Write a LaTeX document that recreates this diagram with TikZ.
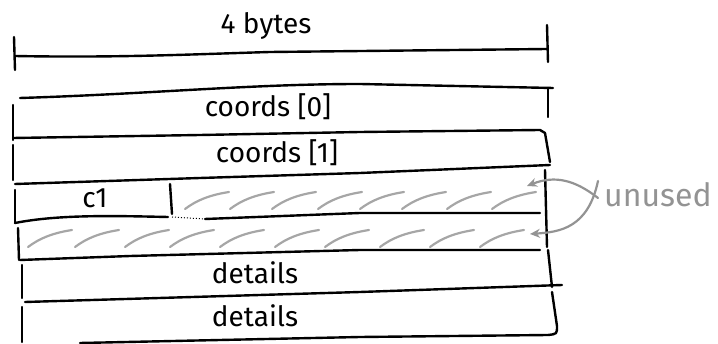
\documentclass[tikz,border=0pt]{standalone}
\usepackage{fontspec}
\setmainfont{Fira Sans}
\usetikzlibrary{arrows.meta}
\tikzset{
  pen/.style={line width=2.4pt, line cap=round, line join=round, black},
  hatch/.style={line width=2.2pt, line cap=round, gray!70},
  note/.style={line width=2.2pt, line cap=round, gray!85},
  lbl/.style={font=\fontsize{28}{30}\selectfont, inner sep=0pt},
}
\begin{document}
\begin{tikzpicture}[x=1pt, y=-1pt]
\useasboundingbox (0,0) rectangle (718,344);

% width marker: 4 bytes
\draw[pen] (14,37) -- (15,70);
\draw[pen] (547,25) -- (548,62);
\draw[pen] (15,56) .. controls (120,58) and (200,54) .. (270,52) -- (547,49);
\node[lbl] (width) at (266,26) {4 bytes};

% row: coords[0]
\draw[pen] (20,98) .. controls (150,94) and (250,84) .. (360,84) -- (553,88);
\draw[pen] (548,88) -- (548,117);
\draw[pen] (13,105) -- (13,140);
\node[lbl] (c0) at (268,107) {coords [0]};

% row: coords[1]
\draw[pen] (13,138) -- (200,135) -- (360,132) -- (540,130) -- (545,133) -- (550,162);
\draw[pen] (13,145) -- (13,180);
\node[lbl] (c1full) at (277,153) {coords [1]};

% row: c1 + padding
\draw[pen] (15,184) -- (200,178) -- (360,173) -- (550,165);
\draw[pen] (545,170) -- (547,247);
\draw[pen] (15,190) -- (15,223);
\draw[pen] (170,184) -- (172,214);
\draw[pen] (15,223) .. controls (60,214) and (120,216) .. (168,217);
\draw[line width=1pt, dotted] (172,217) -- (205,219);
\draw[pen] (205,219) -- (360,213) -- (540,213);
\node[lbl] (cone) at (95,198) {c1};

% padding hatching in the c1 row
\foreach \x in {185,230,272,318,360,402,447,492}
  \draw[hatch] (\x,209) .. controls (\x+12,200) and (\x+25,195) .. (\x+44,192);

% row: padding
\draw[pen] (18,228) -- (19,260);
\draw[pen] (20,260) -- (130,256) -- (360,250) -- (540,250);
\foreach \x in {28,75,125,170,220,275,325,380,430,480}
  \draw[hatch] (\x,247) .. controls (\x+12,238) and (\x+25,233) .. (\x+44,230);

% row: details
\draw[pen] (22,265) -- (22,298);
\draw[pen] (548,250) -- (552,287);
\draw[pen] (25,302) -- (360,292) -- (562,285);
\node[lbl] (d1) at (255,273) {details};

% row: details
\draw[pen] (22,307) -- (22,342);
\draw[pen] (80,343) -- (360,337) -- (548,335) .. controls (557,334) .. (557,326) -- (552,292);
\node[lbl] (d2) at (255,316) {details};

% annotation
\node[lbl, font=\fontsize{32}{34}\selectfont, text=gray!85, anchor=west] (unused) at (604,195) {unused};
\coordinate (padA) at (527,186);
\coordinate (padB) at (530,234);
\draw[note, -{Stealth[length=10pt,width=9pt]}] ([xshift=-6pt,yshift=-3pt]unused.west) .. controls (575,180) and (555,175) .. (padA);
\draw[note, -{Stealth[length=10pt,width=9pt]}] ([xshift=-6pt,yshift=14pt]unused.west) .. controls (588,228) and (560,232) .. (padB);
\end{tikzpicture}
\end{document}
